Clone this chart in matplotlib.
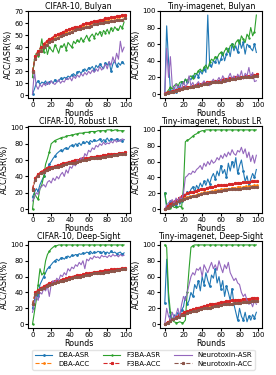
import numpy as np
import matplotlib
matplotlib.use('Agg')
import matplotlib.pyplot as plt

# ASR curves sampled every 2 rounds, ACC curves every 3 rounds
titles = ['CIFAR-10, Bulyan', 'Tiny-imagenet, Bulyan',
          'CIFAR-10, Robust LR', 'Tiny-imagenet, Robust LR',
          'CIFAR-10, Deep-Sight', 'Tiny-imagenet, Deep-Sight']
ylims = [(0, 70), (0, 100), (0, 100), (0, 100), (0, 100), (0, 100)]

# ---- CIFAR-10, Bulyan
c_bul_dba_asr = [1, 5, 10, 12, 9, 11, 10, 12, 9, 11, 12, 10, 13, 11, 12, 14, 13, 15, 14, 16, 15, 17, 18, 16, 19,
                 20, 18, 21, 22, 20, 23, 22, 24, 21, 25, 23, 26, 24, 22, 27, 25, 28, 20, 26, 29, 24, 27, 25, 28, 26]
c_bul_f3ba_asr = [15, 30, 35, 33, 38, 47, 36, 42, 34, 40, 38, 36, 42, 39, 35, 41, 40, 43, 38, 44, 42, 40, 45, 43, 46,
                  44, 48, 45, 47, 50, 46, 49, 51, 48, 52, 50, 53, 49, 54, 52, 55, 51, 56, 53, 57, 55, 54, 58, 56, 61]
c_bul_nt_asr = [1, 20, 8, 5, 9, 7, 10, 8, 11, 9, 12, 10, 9, 11, 13, 10, 12, 11, 14, 13, 15, 12, 16, 14, 17,
                15, 18, 16, 19, 17, 20, 18, 21, 19, 22, 20, 24, 21, 23, 26, 22, 28, 25, 32, 27, 35, 30, 45, 36, 40]
c_bul_dba_acc = [20, 32, 36, 39, 42, 44, 46, 47, 49, 50, 51, 52, 53, 54, 55, 56, 56, 57, 58, 59, 59, 60, 61, 61,
                 62, 62, 63, 63, 64, 64, 65, 65, 66, 66]
c_bul_f3ba_acc = [20, 33, 37, 40, 43, 45, 47, 48, 50, 51, 52, 53, 54, 55, 56, 57, 57, 58, 59, 60, 60, 61, 62, 62,
                  63, 63, 64, 64, 65, 65, 66, 66, 67, 67]
c_bul_nt_acc = [19, 30, 34, 37, 40, 42, 44, 45, 47, 48, 49, 50, 51, 52, 53, 54, 55, 55, 56, 57, 57, 58, 59, 59,
                60, 60, 61, 61, 62, 62, 63, 63, 63, 64]

# ---- Tiny-imagenet, Bulyan
t_bul_dba_asr = [0, 82, 40, 5, 2, 8, 3, 10, 6, 15, 12, 18, 14, 20, 17, 22, 19, 25, 21, 28, 24, 30, 26, 95, 35,
                 32, 40, 38, 45, 36, 42, 50, 40, 48, 55, 45, 60, 52, 58, 50, 65, 55, 62, 48, 60, 58, 55, 52, 60, 50]
t_bul_f3ba_asr = [0, 2, 5, 8, 6, 10, 12, 9, 14, 15, 13, 18, 16, 20, 22, 19, 25, 24, 28, 30, 27, 32, 35, 30, 38,
                  42, 40, 45, 43, 48, 50, 46, 52, 55, 50, 58, 60, 55, 62, 65, 60, 70, 66, 62, 72, 68, 80, 70, 75, 95]
t_bul_nt_asr = [0, 55, 20, 45, 10, 5, 12, 8, 10, 6, 15, 9, 12, 22, 10, 14, 8, 12, 15, 10, 13, 16, 12, 14, 10,
                15, 18, 13, 16, 20, 15, 22, 18, 14, 20, 25, 18, 22, 16, 24, 20, 28, 18, 25, 22, 32, 20, 26, 15, 16]
t_bul_dba_acc = [1, 2, 3, 4, 5, 6, 6, 7, 8, 9, 10, 10, 11, 12, 12, 13, 14, 14, 15, 16, 16, 17, 17, 18, 18, 19,
                 19, 20, 20, 21, 21, 22, 22, 23]
t_bul_f3ba_acc = [1, 2, 3, 4, 5, 6, 7, 8, 9, 9, 10, 11, 12, 12, 13, 14, 14, 15, 16, 16, 17, 18, 18, 19, 19, 20,
                  20, 21, 21, 22, 22, 23, 23, 24]
t_bul_nt_acc = [0, 1, 2, 3, 4, 5, 6, 7, 7, 8, 9, 10, 10, 11, 12, 12, 13, 14, 14, 15, 15, 16, 17, 17, 18, 18,
                19, 19, 20, 20, 21, 21, 22, 22]

# ---- CIFAR-10, Robust LR
c_rlr_dba_asr = [15, 20, 25, 22, 30, 35, 40, 45, 50, 55, 58, 62, 65, 68, 70, 72, 70, 74, 75, 73, 77, 78, 76, 80,
                 79, 81, 78, 82, 80, 83, 81, 84, 82, 85, 83, 84, 86, 82, 85, 84, 87, 83, 86, 85, 84, 86, 83, 85,
                 84, 85]
c_rlr_f3ba_asr = [0, 20, 15, 12, 25, 30, 40, 55, 62, 70, 80, 82, 84, 85, 86, 87, 88, 88, 89, 90, 90, 91, 91, 92,
                  92, 93, 93, 93, 94, 94, 94, 95, 95, 95, 95, 96, 96, 96, 96, 96, 97, 97, 97, 96, 97, 97, 96, 96,
                  96, 96]
c_rlr_nt_asr = [10, 15, 20, 18, 25, 28, 30, 27, 33, 35, 32, 38, 35, 40, 37, 42, 45, 40, 48, 44, 52, 50, 55, 53,
                60, 57, 63, 60, 68, 65, 72, 70, 75, 73, 78, 76, 80, 78, 82, 79, 81, 80, 83, 81, 85, 82, 84, 83,
                86, 85]
c_rlr_dba_acc = [24, 37, 42, 45, 47, 49, 50, 51, 52, 53, 54, 55, 56, 57, 58, 58, 59, 60, 61, 61, 62, 63, 63, 64,
                 64, 65, 65, 66, 66, 67, 67, 68, 68, 69]
c_rlr_f3ba_acc = [25, 38, 43, 46, 48, 50, 51, 52, 53, 54, 55, 56, 57, 58, 59, 60, 60, 61, 62, 62, 63, 64, 64, 65,
                  65, 66, 66, 67, 67, 68, 68, 69, 69, 70]
c_rlr_nt_acc = [23, 36, 41, 44, 46, 48, 49, 50, 51, 52, 53, 54, 55, 56, 57, 57, 58, 59, 60, 60, 61, 62, 62, 63,
                63, 64, 64, 65, 65, 66, 66, 67, 67, 68]

# ---- Tiny-imagenet, Robust LR
t_rlr_dba_asr = [20, 2, 5, 10, 3, 8, 4, 12, 6, 10, 20, 15, 22, 18, 25, 28, 22, 30, 26, 33, 28, 35, 30, 38, 32,
                 40, 45, 38, 48, 42, 55, 45, 50, 40, 58, 48, 60, 52, 65, 45, 55, 62, 48, 35, 42, 30, 38, 45, 40, 50]
t_rlr_f3ba_asr = [20, 5, 3, 2, 5, 2, 3, 2, 4, 2, 28, 85, 87, 88, 90, 92, 94, 95, 97, 98, 99, 99, 100, 100, 100,
                  100, 100, 100, 100, 100, 100, 100, 100, 100, 100, 100, 100, 100, 100, 100, 100, 100, 100, 100,
                  100, 100, 100, 100, 100, 100]
t_rlr_nt_asr = [0, 5, 8, 10, 12, 6, 14, 10, 15, 12, 20, 40, 42, 45, 44, 48, 46, 50, 52, 55, 50, 58, 54, 60, 56,
                62, 58, 60, 65, 62, 68, 64, 70, 66, 72, 68, 75, 70, 68, 74, 72, 78, 70, 76, 65, 72, 60, 68, 58, 68]
t_rlr_dba_acc = [0, 3, 5, 7, 9, 11, 13, 14, 15, 16, 17, 18, 19, 20, 21, 22, 22, 23, 24, 24, 25, 25, 26, 26, 27,
                 27, 28, 28, 28, 29, 29, 29, 30, 30]
t_rlr_f3ba_acc = [0, 4, 7, 9, 12, 14, 16, 18, 20, 21, 22, 23, 24, 25, 26, 27, 28, 28, 29, 30, 30, 31, 31, 32, 32,
                  33, 33, 33, 34, 34, 34, 35, 35, 35]
t_rlr_nt_acc = [0, 2, 4, 6, 8, 10, 12, 13, 14, 15, 16, 17, 18, 19, 20, 20, 21, 22, 22, 23, 23, 24, 24, 25, 25,
                26, 26, 26, 27, 27, 27, 28, 28, 28]

# ---- CIFAR-10, Deep-Sight
c_ds_dba_asr = [20, 30, 40, 35, 50, 55, 60, 65, 70, 72, 75, 78, 80, 82, 80, 83, 84, 82, 85, 86, 84, 87, 86, 88,
                87, 89, 88, 90, 89, 91, 90, 92, 89, 91, 90, 92, 91, 89, 92, 90, 91, 89, 92, 90, 91, 89, 90, 91,
                88, 90]
c_ds_f3ba_asr = [0, 15, 30, 50, 70, 62, 65, 80, 88, 92, 95, 97, 99, 99, 100, 100, 100, 100, 100, 100, 100, 100,
                 100, 100, 100, 100, 100, 100, 100, 100, 100, 100, 100, 100, 100, 100, 100, 100, 100, 100, 100,
                 100, 100, 100, 100, 100, 100, 100, 100, 100]
c_ds_nt_asr = [15, 25, 35, 30, 40, 38, 45, 42, 48, 35, 50, 55, 52, 58, 55, 62, 60, 65, 62, 70, 67, 72, 70, 75,
               73, 78, 75, 80, 70, 82, 80, 84, 82, 86, 84, 85, 83, 87, 85, 86, 84, 87, 85, 88, 86, 87, 85, 88,
               86, 87]
c_ds_dba_acc = [25, 39, 42, 45, 47, 49, 51, 52, 53, 54, 55, 56, 57, 58, 59, 60, 61, 61, 62, 63, 63, 64, 65, 65,
                66, 66, 67, 67, 68, 68, 69, 69, 70, 70]
c_ds_f3ba_acc = [25, 40, 43, 46, 48, 50, 52, 53, 54, 55, 56, 57, 58, 59, 60, 61, 62, 62, 63, 64, 64, 65, 66, 66,
                 67, 67, 68, 68, 69, 69, 70, 70, 71, 71]
c_ds_nt_acc = [25, 38, 41, 44, 46, 48, 50, 51, 52, 53, 54, 55, 56, 57, 58, 59, 60, 60, 61, 62, 62, 63, 64, 64,
               65, 65, 66, 66, 67, 67, 68, 68, 69, 70]

# ---- Tiny-imagenet, Deep-Sight
t_ds_dba_asr = [27, 82, 30, 10, 5, 12, 8, 15, 10, 18, 22, 35, 25, 30, 40, 35, 50, 45, 55, 42, 60, 50, 65, 55, 48,
                62, 58, 70, 52, 60, 45, 55, 35, 48, 40, 30, 45, 25, 15, 5, 20, 10, 5, 15, 3, 10, 5, 12, 8, 15]
t_ds_f3ba_asr = [100, 97, 40, 15, 5, 3, 2, 2, 3, 2, 2, 5, 40, 70, 97, 99, 100, 100, 100, 100, 100, 100, 100, 100,
                 100, 100, 100, 100, 100, 100, 100, 100, 100, 100, 100, 100, 100, 100, 100, 100, 100, 100, 100,
                 100, 100, 100, 100, 100, 100, 100]
t_ds_nt_asr = [0, 20, 10, 5, 15, 8, 12, 20, 10, 25, 35, 30, 40, 50, 60, 65, 62, 70, 68, 72, 60, 75, 70, 65, 72,
               78, 70, 75, 68, 80, 72, 65, 75, 70, 78, 65, 60, 55, 58, 52, 50, 40, 35, 38, 30, 25, 28, 22, 30, 25]
t_ds_dba_acc = [0, 2, 4, 6, 8, 10, 11, 13, 14, 15, 16, 17, 18, 19, 20, 21, 22, 22, 23, 24, 24, 25, 25, 26, 26,
                27, 27, 28, 28, 28, 29, 29, 29, 30]
t_ds_f3ba_acc = [0, 3, 5, 7, 9, 11, 13, 15, 16, 18, 19, 20, 21, 22, 23, 24, 25, 26, 26, 27, 28, 28, 29, 29, 30,
                 30, 31, 31, 32, 32, 32, 33, 33, 33]
t_ds_nt_acc = [0, 2, 4, 6, 8, 9, 11, 12, 14, 15, 16, 17, 18, 19, 20, 21, 21, 22, 23, 23, 24, 25, 25, 26, 26, 27,
               27, 27, 28, 28, 28, 29, 29, 29]

panels = [
    (c_bul_dba_asr, c_bul_dba_acc, c_bul_f3ba_asr, c_bul_f3ba_acc, c_bul_nt_asr, c_bul_nt_acc),
    (t_bul_dba_asr, t_bul_dba_acc, t_bul_f3ba_asr, t_bul_f3ba_acc, t_bul_nt_asr, t_bul_nt_acc),
    (c_rlr_dba_asr, c_rlr_dba_acc, c_rlr_f3ba_asr, c_rlr_f3ba_acc, c_rlr_nt_asr, c_rlr_nt_acc),
    (t_rlr_dba_asr, t_rlr_dba_acc, t_rlr_f3ba_asr, t_rlr_f3ba_acc, t_rlr_nt_asr, t_rlr_nt_acc),
    (c_ds_dba_asr, c_ds_dba_acc, c_ds_f3ba_asr, c_ds_f3ba_acc, c_ds_nt_asr, c_ds_nt_acc),
    (t_ds_dba_asr, t_ds_dba_acc, t_ds_f3ba_asr, t_ds_f3ba_acc, t_ds_nt_asr, t_ds_nt_acc),
]

labels = ['DBA-ASR', 'DBA-ACC', 'F3BA-ASR', 'F3BA-ACC', 'Neurotoxin-ASR', 'Neurotoxin-ACC']
colors = ['C0', 'C1', 'C2', 'C3', 'C4', 'C5']
styles = ['-', '--', '-', '--', '-', '--']
markers = ['.', '.', '+', '*', '', '*']

plt.rcParams['font.size'] = 5.5

fig, axes = plt.subplots(3, 2, figsize=(2.76, 3.75), dpi=100)
fig.subplots_adjust(left=0.101, right=0.949, top=0.971, bottom=0.125, wspace=0.3, hspace=0.32)

for ax, series, title, yl in zip(axes.flat, panels, titles, ylims):
    for k, vals in enumerate(series):
        step = 2 if k % 2 == 0 else 3
        x = np.arange(len(vals)) * step
        ax.plot(x, vals, linestyle=styles[k], color=colors[k], marker=markers[k],
                markersize=2, markevery=3 if k % 2 == 0 else 1, linewidth=0.8, label=labels[k])
    ax.set_title(title, fontsize=5.7, pad=1.5)
    ax.set_xlabel('Rounds', fontsize=5.8, labelpad=0.5)
    ax.set_ylabel('ACC/ASR(%)', fontsize=5.8, labelpad=1)
    ax.set_xticks([0, 20, 40, 60, 80, 100])
    if yl[1] == 70:
        ax.set_yticks(range(0, 71, 10))
    else:
        ax.set_yticks(range(0, 101, 20))
    ax.tick_params(labelsize=5, length=2, pad=1)

handles, labs = axes[0, 0].get_legend_handles_labels()
fig.legend(handles, labs, loc='lower center', bbox_to_anchor=(0.52, 0.005), ncol=3, fontsize=5,
           handlelength=2.5, columnspacing=2.0, labelspacing=0.35, borderpad=0.4,
           frameon=True, edgecolor='#dddddd')

fig.savefig('out.png', dpi=100)
